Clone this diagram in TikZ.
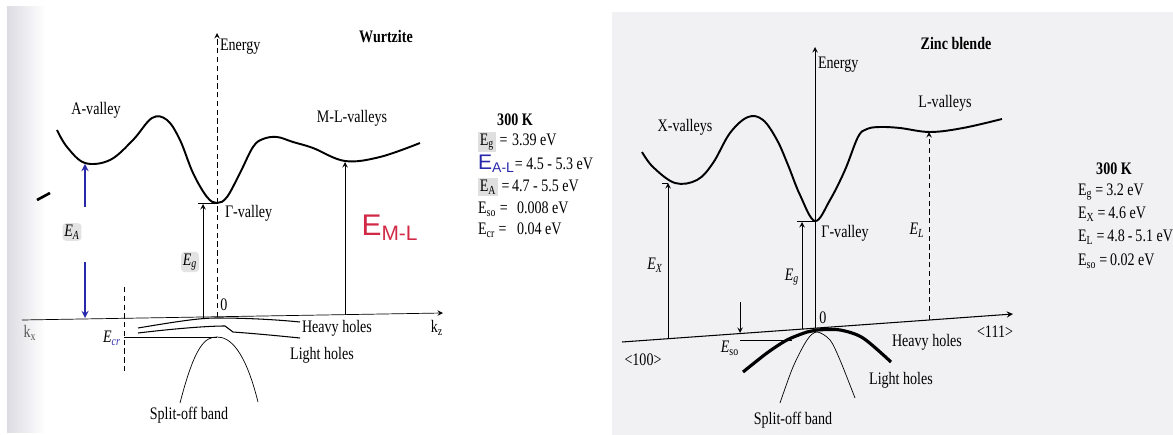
\documentclass[tikz,border=0pt]{standalone}
\usepackage{fontspec}
\setmainfont{Liberation Serif}[FakeStretch=0.8]
\newfontfamily\handfont{Liberation Sans}
\definecolor{inkred}{RGB}{210,40,70}
\definecolor{inkblue}{RGB}{40,40,170}
\definecolor{panelgray}{RGB}{241,241,243}
\newcommand{\smudged}[1]{{\setlength{\fboxsep}{1pt}\colorbox{gray!25}{#1}}}
\begin{document}
\begin{tikzpicture}[x=0.02cm,y=-0.02cm,every node/.style={inner sep=1pt},
  band/.style={line width=1.1pt},level/.style={thin,->,>=stealth},
  smudge/.style={fill=gray!22,rounded corners=2pt}]
  \useasboundingbox (0,0) rectangle (1173,435);
  \fill[panelgray] (612,12) rectangle (1173,435);
  \shade[left color=blue!10!gray!25,right color=white] (7,7) rectangle (45,432);
  % wurtzite
  \coordinate (wzo) at (217,317);
  \coordinate (wztop) at (217,33);
  \coordinate (wzkl) at (22,320);
  \coordinate (wzkr) at (443,313);
  \draw[densely dashed,->,>=stealth] (wzo) -- (wztop);
  \draw[->,>=stealth] (wzkl) -- (wzkr);
  \node[anchor=west] (wzenergy) at (218,47) {Energy};
  \node[font=\bfseries] (wzname) at (386,37) {Wurtzite};
  \draw[band] plot[smooth,tension=0.6] coordinates {(57,130) (67,147) (85,163) (110,160) (133,140) (152,118) (167,120) (180,140) (193,173) (207,197) (217,203) (227,197) (240,173) (253,147) (263,139) (277,137) (293,142) (313,148) (345,161) (380,157) (420,143)};
  \coordinate (wzamin) at (85,164);
  \coordinate (wzgmin) at (217,203);
  \coordinate (wzmlmin) at (345,162);
  \coordinate (wzgtick) at (198,203);
  \draw (wzgtick) -- (wzgmin);
  \coordinate (wzgbase) at (203,318);
  \coordinate (wzgtop) at (203,204);
  \draw[level] (wzgbase) -- (wzgtop);
  \node[smudge,font=\itshape] (wzeg) at (190,262) {E\textsubscript{g}};
  \coordinate (wzaup) at (85,207);
  \coordinate (wzadown) at (85,262);
  \coordinate (wzabase) at (85,318);
  \draw[inkblue,thick,->,>=stealth] (wzaup) -- (wzamin);
  \draw[inkblue,thick,->,>=stealth] (wzadown) -- (wzabase);
  \node[smudge,font=\itshape] (wzea) at (72,232) {E\textsubscript{A}};
  \draw[line width=1.5pt] (37,200) -- (50,193);
  \coordinate (wzmlbase) at (345,315);
  \draw[level] (wzmlbase) -- (wzmlmin);
  \node[inkred,font=\handfont\fontsize{17}{17}\selectfont] (wzeml) at (390,228) {E\textsubscript{M-L}};
  \node (wzaval) at (96,110) {A-valley};
  \node (wzmlval) at (352,118) {M-L-valleys};
  \node[anchor=west] (wzgval) at (223,213) {Γ-valley};
  \node (wzzero) at (224,305) {0};
  \node[text=gray!70!black] (wzkx) at (30,333) {k\textsubscript{x}};
  \node (wzkz) at (437,328) {k\textsubscript{z}};
  % holes and split-off band
  \draw[semithick] (138,328) .. controls (180,321) and (200,318) .. (217,318) .. controls (250,318) and (280,320) .. (300,322);
  \draw[semithick] (138,333) .. controls (180,328) and (210,326) .. (225,326) -- (233,332) .. controls (260,334) and (280,336) .. (300,338);
  \coordinate (wzcrtop) at (124,287);
  \coordinate (wzcrbot) at (124,372);
  \draw[densely dashed,thin] (wzcrtop) -- (wzcrbot);
  \coordinate (wzcr) at (124,337);
  \coordinate (wzsotop) at (217,337);
  \draw (wzcr) -- (wzsotop);
  \draw (180,403) .. controls (195,345) and (205,337) .. (wzsotop) .. controls (230,337) and (245,350) .. (258,402);
  \node (wzecr) at (112,338) {\textit{E}\textsubscript{\color{inkblue}\textit{cr}}};
  \node (wzhh) at (337,328) {Heavy holes};
  \node (wzlh) at (322,355) {Light holes};
  \node (wzso) at (189,415) {Split-off band};
  \node[font=\bfseries] (wzt) at (515,120) {300 K};
  \node[anchor=west] (wzrg) at (476,142) {\makebox[0.68cm][l]{\smudged{E\textsubscript{g}} =}3.39 eV};
  \node[anchor=west] (wzral) at (476,164) {{\handfont\color{inkblue}\large E\textsubscript{A-L}}= 4.5 - 5.3 eV};
  \node[anchor=west] (wzra) at (476,187) {\makebox[0.68cm][l]{\smudged{E\textsubscript{A}} =}4.7 - 5.5 eV};
  \node[anchor=west] (wzrso) at (476,209) {\makebox[0.78cm][l]{E\textsubscript{so} =}0.008 eV};
  \node[anchor=west] (wzrcr) at (476,230) {\makebox[0.78cm][l]{E\textsubscript{cr} =}0.04 eV};
  % zinc blende
  \coordinate (zbo) at (815,328);
  \coordinate (zbtop) at (815,47);
  \coordinate (zbkl) at (622,342);
  \coordinate (zbkr) at (1013,314);
  \draw[->,>=stealth] (zbo) -- (zbtop);
  \draw[semithick,->,>=stealth] (zbkl) -- (zbkr);
  \node[anchor=west] (zbenergy) at (816,65) {Energy};
  \node[font=\bfseries] (zbname) at (956,43) {Zinc blende};
  \draw[band] plot[smooth,tension=0.6] coordinates {(642,152) (653,167) (675,183) (697,180) (713,163) (730,133) (748,117) (763,120) (777,140) (788,165) (800,195) (815,221) (830,200) (845,170) (858,137) (867,129) (880,127) (900,128) (930,132) (963,128) (1002,119)};
  \coordinate (zbgmin) at (815,221);
  \coordinate (zbgtick) at (797,221);
  \draw (zbgtick) -- (zbgmin);
  \coordinate (zbgbase) at (802,329);
  \coordinate (zbgtop) at (802,222);
  \draw[level] (zbgbase) -- (zbgtop);
  \node[font=\itshape] (zbeg) at (792,277) {E\textsubscript{g}};
  \coordinate (zbxmin) at (668,183);
  \coordinate (zbxbase) at (668,338);
  \coordinate (zbxtick) at (662,183);
  \draw (zbxtick) -- (zbxmin);
  \draw[level] (zbxbase) -- (zbxmin);
  \node[font=\itshape] (zbex) at (655,265) {E\textsubscript{X}};
  \coordinate (zblmin) at (929,132);
  \coordinate (zblbase) at (929,320);
  \draw[level,densely dashed] (zblbase) -- (zblmin);
  \node[font=\itshape] (zbel) at (917,230) {E\textsubscript{L}};
  \coordinate (zbsotop) at (740,302);
  \coordinate (zbsoaxis) at (740,333);
  \draw[level] (zbsotop) -- (zbsoaxis);
  \coordinate (zbsol) at (740,340);
  \coordinate (zbsor) at (792,340);
  \draw (zbsol) -- (zbsor);
  \node (zbeso) at (730,348) {\textit{E}\textsubscript{so}};
  \draw[line width=1.8pt] plot[smooth] coordinates {(743,372) (767,353) (787,340) (807,332) (817,330) (840,330) (863,338) (891,362)};
  \draw plot[smooth] coordinates {(780,403) (793,367) (807,340) (817,332) (830,340) (840,360) (855,398)};
  \node (zbxval) at (685,127) {X-valleys};
  \node (zblval) at (945,103) {L-valleys};
  \node (zbgval) at (845,233) {Γ-valley};
  \node (zbzero) at (823,318) {0};
  \node (zb100) at (643,360) {<100>};
  \node (zb111) at (995,332) {<111>};
  \node (zbhh) at (927,342) {Heavy holes};
  \node (zblh) at (901,380) {Light holes};
  \node (zbso) at (793,420) {Split-off band};
  \node[font=\bfseries] (zbt) at (1114,169) {300 K};
  \node[anchor=west] (zbrg) at (1076,192) {E\textsubscript{g}\,=\,3.2 eV};
  \node[anchor=west] (zbrx) at (1076,214) {E\textsubscript{X}\,=\,4.6 eV};
  \node[anchor=west] (zbrl) at (1076,237) {E\textsubscript{L}\,=\,4.8\,-\,5.1 eV};
  \node[anchor=west] (zbrso) at (1076,261) {E\textsubscript{so}\,=\,0.02 eV};
\end{tikzpicture}
\end{document}
